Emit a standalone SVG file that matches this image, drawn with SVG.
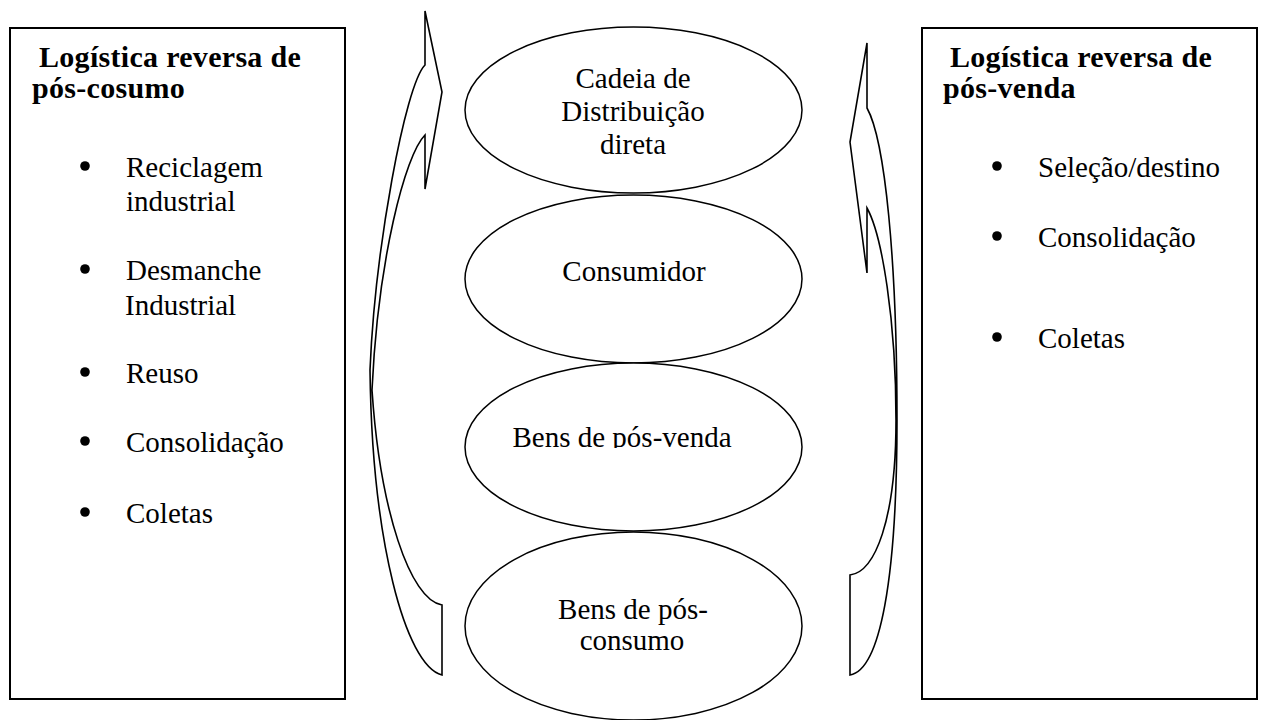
<svg xmlns="http://www.w3.org/2000/svg" width="1262" height="720" viewBox="0 0 1262 720">
<style>
.box{fill:#fff;stroke:#000;stroke-width:2}
.ell{fill:#fff;stroke:#000;stroke-width:1.5}
.arr{fill:none;stroke:#000;stroke-width:1.6;stroke-linejoin:miter}
.t{font-family:"Liberation Serif","Times New Roman",serif;font-size:29px;fill:#000}
.tb{font-family:"Liberation Serif","Times New Roman",serif;font-size:30px;font-weight:bold;fill:#000;letter-spacing:0.3px}
.c{text-anchor:middle}
.dot{fill:#000}
</style>
<defs>
<clipPath id="clipPV"><rect x="440" y="380" width="380" height="68"/></clipPath>
</defs>
<g id="box-left">
<rect class="box" x="10" y="28" width="335" height="671"/>
<text class="tb" x="39" y="67">Logística reversa de</text>
<text class="tb" x="32" y="98">pós-cosumo</text>
<circle class="dot" cx="85" cy="166" r="4.8"/>
<text class="t" x="126" y="177">Reciclagem</text>
<text class="t" x="126" y="211">industrial</text>
<circle class="dot" cx="85" cy="269" r="4.8"/>
<text class="t" x="126" y="280">Desmanche</text>
<text class="t" x="125" y="315">Industrial</text>
<circle class="dot" cx="85" cy="372" r="4.8"/>
<text class="t" x="126" y="383">Reuso</text>
<circle class="dot" cx="85" cy="441" r="4.8"/>
<text class="t" x="126" y="452">Consolidação</text>
<circle class="dot" cx="85" cy="512" r="4.8"/>
<text class="t" x="126" y="523">Coletas</text>
</g>
<g id="box-right">
<rect class="box" x="922" y="28" width="335" height="671"/>
<text class="tb" x="950" y="67">Logística reversa de</text>
<text class="tb" x="943" y="98">pós-venda</text>
<circle class="dot" cx="997" cy="166" r="4.8"/>
<text class="t" x="1038" y="177">Seleção/destino</text>
<circle class="dot" cx="997" cy="236" r="4.8"/>
<text class="t" x="1038" y="247">Consolidação</text>
<circle class="dot" cx="997" cy="337" r="4.8"/>
<text class="t" x="1038" y="348">Coletas</text>
</g>
<g id="connectors">
<path id="arrow-left" class="arr" d="M425,65 L425,11 L442,92 L425,189 L425,135 C405,155 378,260 372,390 C380,510 410,600 442,605 L442,675 C405,665 372,540 370,370 C375,250 405,85 425,65 Z"/>
<path id="arrow-right" class="arr" d="M867,108 L867,43 L850,142 L867,273 L867,208 C882,235 896,320 896,420 C896,520 875,572 850,575 L850,675 C880,670 897,580 897,420 C897,260 885,140 867,108 Z"/>
</g>
<g id="node-cadeia">
<ellipse class="ell" cx="633.5" cy="110" rx="168.5" ry="83"/>
<text class="t c" x="633" y="88">Cadeia de</text>
<text class="t c" x="633" y="121">Distribuição</text>
<text class="t c" x="633" y="154">direta</text>
</g>
<g id="node-consumidor">
<ellipse class="ell" cx="633.5" cy="279" rx="168.5" ry="84"/>
<text class="t c" x="634" y="281">Consumidor</text>
</g>
<g id="node-posvenda">
<ellipse class="ell" cx="633.5" cy="447" rx="168.5" ry="84"/>
<text class="t c" x="622" y="447" clip-path="url(#clipPV)">Bens de pós-venda</text>
</g>
<g id="node-posconsumo">
<ellipse class="ell" cx="633.5" cy="626" rx="168.5" ry="94"/>
<text class="t c" x="633" y="619">Bens de pós-</text>
<text class="t c" x="632" y="650">consumo</text>
</g>
</svg>
